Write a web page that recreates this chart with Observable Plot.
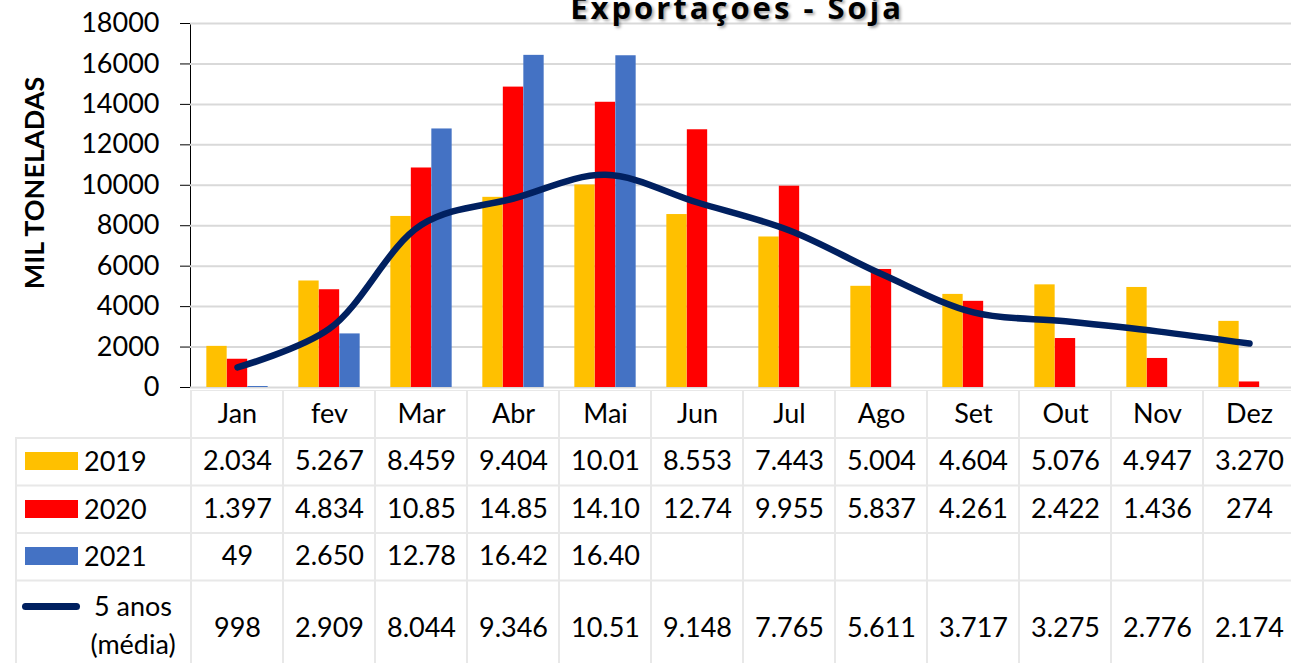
<!DOCTYPE html>
<html><head><meta charset="utf-8">
<script src="https://cdn.jsdelivr.net/npm/d3@7"></script>
<script src="https://cdn.jsdelivr.net/npm/@observablehq/plot@0.6"></script>
<style>
html,body{margin:0;padding:0;background:#fff;overflow:hidden;width:1291px;height:663px;}
#wrap{position:relative;width:1296px;height:663px;font-family:Lato,sans-serif;color:#000;}
#title{position:absolute;left:737px;top:-8px;transform:translateX(-50%);font-family:"Open Sans",sans-serif;font-weight:700;font-size:31px;line-height:31px;letter-spacing:3px;white-space:nowrap;text-shadow:2px 2px 3px rgba(0,0,0,0.35);}
#ylab{position:absolute;left:33px;top:183px;transform:translate(-50%,-50%) rotate(-90deg);font-weight:700;font-size:27px;white-space:nowrap;}
#chart{position:absolute;left:0;top:0;}
#chart svg{overflow:visible;}
#table{position:absolute;left:0;top:390px;}
.leg{position:absolute;font-size:27px;line-height:30px;white-space:nowrap;}
.sw{position:absolute;}
#legborder{position:absolute;left:15px;top:437px;width:0;height:240px;border-left:2px solid #e8e8e8;}
</style></head>
<body><div id="wrap">
<div id="table"></div>
<div id="chart"></div>
<div id="legborder"></div>
<div id="title">Exportaçoes - Soja</div>
<div id="ylab">MIL TONELADAS</div>
</div>
<script>
const months = ["Jan","fev","Mar","Abr","Mai","Jun","Jul","Ago","Set","Out","Nov","Dez"];
const years = ["2019","2020","2021"];
const colors = ["#FFC000","#FF0000","#4472C4"];
const lineColor = "#002060";
const v2019 = [2034,5267,8459,9404,10015,8553,7443,5004,4604,5076,4947,3270];
const v2020 = [1397,4834,10855,14855,14105,12745,9955,5837,4261,2422,1436,274];
const v2021 = [49,2650,12785,16425,16405];
const media = [998,2909,8044,9346,10515,9148,7765,5611,3717,3275,2776,2174];
const t2019 = ["2.034","5.267","8.459","9.404","10.01","8.553","7.443","5.004","4.604","5.076","4.947","3.270"];
const t2020 = ["1.397","4.834","10.85","14.85","14.10","12.74","9.955","5.837","4.261","2.422","1.436","274"];
const t2021 = ["49","2.650","12.78","16.42","16.40"];
const tMedia = ["998","2.909","8.044","9.346","10.51","9.148","7.765","5.611","3.717","3.275","2.776","2.174"];
const yTicks = [0,2000,4000,6000,8000,10000,12000,14000,16000,18000];
const legendLabels = ["2019","2020","2021","5 anos\n(média)"];

const series = [v2019, v2020, v2021];
const recs = series.map((arr, k) => arr.map((v, i) => ({month: months[i], year: years[k], value: v})));
const lineRecs = media.map((v, i) => ({month: months[i], value: v}));
const offsets = [-20.5, 0, 20.5];
const barW = 20.5;

const chart = Plot.plot({
  width: 1296, height: 390,
  marginTop: 23, marginBottom: 3, marginLeft: 190, marginRight: 0,
  style: {fontFamily: "Lato, sans-serif", fontSize: "27px", color: "#000", background: "transparent", overflow: "visible"},
  x: {domain: months, padding: 0, axis: null},
  y: {domain: [0, 18000], ticks: yTicks, tickFormat: d => String(d), tickSize: 10, tickPadding: 21, line: true, label: null},
  color: {domain: years, range: colors},
  marks: [
    Plot.gridY(yTicks.slice(1), {stroke: "#d9d9d9", strokeOpacity: 1, strokeWidth: 2}),
    Plot.ruleY([0], {stroke: "#d9d9d9", strokeWidth: 2}),
    ...recs.map((r, k) => Plot.barY(r, {x: "month", y: "value", fill: "year", dx: offsets[k],
      insetLeft: (1106/12 - barW)/2, insetRight: (1106/12 - barW)/2})),
    Plot.line(lineRecs, {x: "month", y: "value", stroke: lineColor, strokeWidth: 6.5, curve: "catmull-rom", strokeLinecap: "round", strokeLinejoin: "round"})
  ]
});
document.getElementById("chart").append(chart);

// Data table
const rowY = {hdr: 0.5, "2019": 1.5, "2020": 2.5, "2021": 3.5, media: 5};
const tblRecs = [];
months.forEach((m, i) => tblRecs.push({month: m, row: rowY.hdr, label: m}));
[t2019, t2020, t2021].forEach((arr, k) => arr.forEach((t, i) => tblRecs.push({month: months[i], row: rowY[years[k]], label: t})));
tMedia.forEach((t, i) => tblRecs.push({month: months[i], row: rowY.media, label: t}));

const table = Plot.plot({
  width: 1296, height: 285,
  marginTop: 0, marginBottom: 0, marginLeft: 0, marginRight: 0,
  style: {fontFamily: "Lato, sans-serif", fontSize: "27px", color: "#000", background: "transparent"},
  x: {domain: months, range: [190, 1296], padding: 0, axis: null},
  y: {domain: [0, 6], range: [0, 285], axis: null},
  marks: [
    Plot.barY(months, {x: d => d, y1: () => 0, y2: () => 6, fill: "none", stroke: "#e8e8e8", strokeWidth: 2}),
    Plot.ruleY([1, 2, 3, 4], {stroke: "#e8e8e8", strokeWidth: 2, insetLeft: 15}),
    Plot.text(tblRecs, {x: "month", y: "row", text: "label", fill: "#000", fontSize: 27})
  ]
});
document.getElementById("table").append(table);

// Legend column (HTML)
const ty = table.scale("y");
const wrap = document.getElementById("wrap");
years.forEach((yr, k) => {
  const cy = 390 + ty.apply(rowY[yr]);
  const sw = document.createElement("div");
  sw.className = "sw";
  Object.assign(sw.style, {left: "25px", top: (cy - 9) + "px", width: "53px", height: "18px", background: colors[k]});
  wrap.append(sw);
  const t = document.createElement("div");
  t.className = "leg";
  t.textContent = legendLabels[k];
  Object.assign(t.style, {left: "84px", top: (cy - 15) + "px"});
  wrap.append(t);
});
{
  const cy = 390 + ty.apply(rowY.media);
  const sw = document.createElement("div");
  sw.className = "sw";
  Object.assign(sw.style, {left: "22px", top: (cy - 25) + "px", width: "58px", height: "7px", background: lineColor, borderRadius: "4px"});
  wrap.append(sw);
  const t = document.createElement("div");
  t.className = "leg";
  t.style.textAlign = "center";
  t.style.lineHeight = "38px";
  t.style.whiteSpace = "pre";
  t.textContent = legendLabels[3];
  Object.assign(t.style, {left: "82px", width: "102px", top: (cy - 41) + "px"});
  wrap.append(t);
}
</script>
</body></html>
